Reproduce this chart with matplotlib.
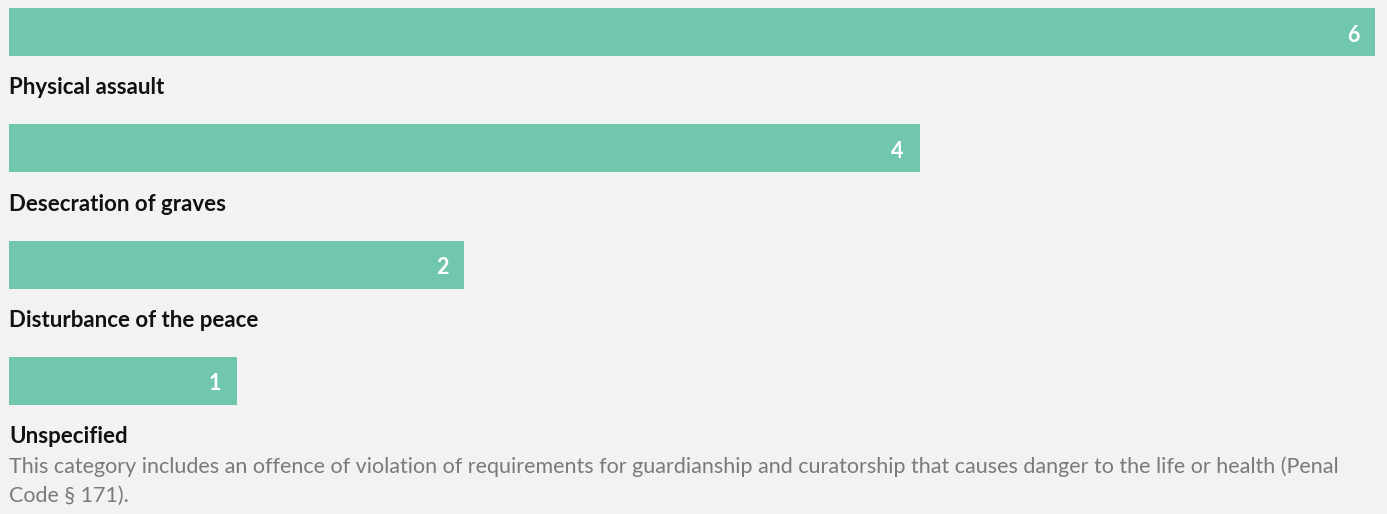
import matplotlib.pyplot as plt
from matplotlib import font_manager

categories = ['Physical assault', 'Desecration of graves', 'Disturbance of the peace', 'Unspecified']
values = [6, 4, 2, 1]
note = ('This category includes an offence of violation of requirements for guardianship and curatorship that causes danger to the life or health (Penal\n'
        'Code § 171).')

names = {f.name for f in font_manager.fontManager.ttflist}
fam = 'Liberation Sans Narrow' if 'Liberation Sans Narrow' in names else 'Lato'
plt.rcParams['font.family'] = [fam, 'DejaVu Sans']

bg = '#f2f2f2'
fig = plt.figure(figsize=(13.87, 5.14), dpi=100, facecolor=bg)
ax = fig.add_axes([0, 0, 1, 1])
ax.set_facecolor(bg)

# pixel-like layout: one unit = ~227.7 px, left margin 9 px
unit = 227.7
ax.set_xlim(-9 / unit, (1387 - 9) / unit)
ax.set_ylim(514, 0)
ax.axis('off')

step = 116.3
bar_top = 8
bar_h = 48
for i, (cat, v) in enumerate(zip(categories, values)):
    y = bar_top + i * step
    ax.barh(y + bar_h / 2, v, height=bar_h, left=0, color='#71c7ae')
    ax.text(v - 16 / unit, y + bar_h / 2 + 3, str(v), color='white', fontsize=15.5,
            fontweight='bold', ha='right', va='center')
    ax.text(0, y + 80, cat, color='#111111', fontsize=16, fontweight='bold',
            ha='left', va='center')

ax.text(0, 456, note, color='#7a7a7a', fontsize=15.5, ha='left', va='top',
        linespacing=1.55)

fig.savefig('out.png', dpi=100, facecolor=bg)
